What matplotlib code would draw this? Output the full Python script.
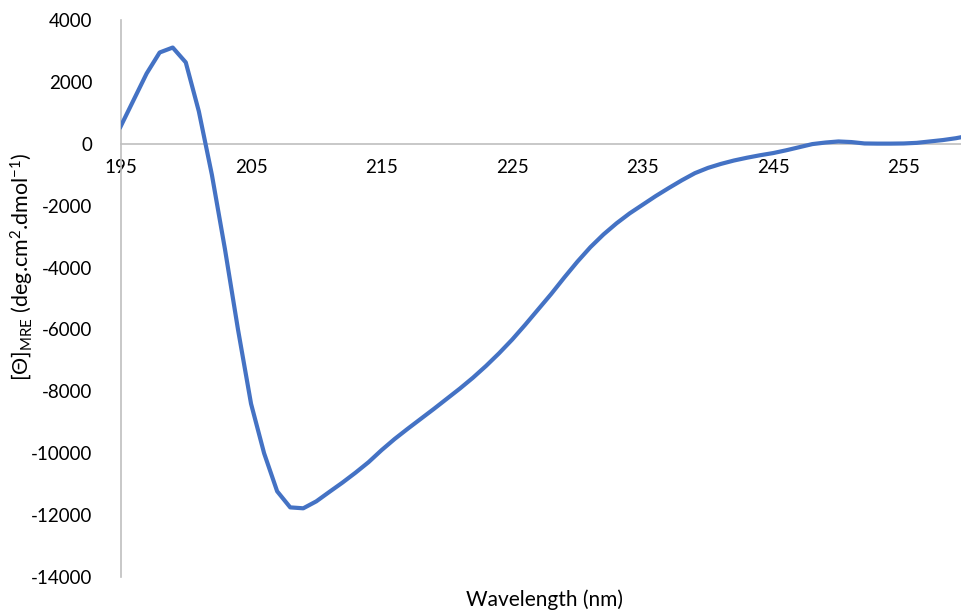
import matplotlib
matplotlib.use("Agg")
import matplotlib.pyplot as plt

# CD spectrum (1 nm steps)
wavelength = list(range(195, 261))
theta_mre = [
    550, 1410, 2270, 2950, 3110, 2630, 1050, -1000, -3400, -6000,      # 195-204
    -8400, -10000, -11230, -11750, -11780, -11555, -11250, -10950, -10630, -10290,  # 205-214
    -9900, -9540, -9210, -8890, -8570, -8240, -7910, -7560, -7180, -6770,  # 215-224
    -6330, -5850, -5350, -4850, -4320, -3810, -3340, -2930, -2570, -2250,  # 225-234
    -1970, -1690, -1430, -1180, -950, -780, -650, -540, -450, -370,       # 235-244
    -300, -210, -110, -10, 40, 75, 55, 10, 5, 5,                           # 245-254
    10, 30, 75, 120, 180, 260,                                             # 255-260
]

xticks = [195, 205, 215, 225, 235, 245, 255]
yticks = list(range(-14000, 4001, 2000))

plt.rcParams['font.family'] = ['Lato', 'DejaVu Sans']
plt.rcParams['axes.unicode_minus'] = False
plt.rcParams['mathtext.fontset'] = 'custom'
plt.rcParams['mathtext.rm'] = 'Lato'
plt.rcParams['mathtext.it'] = 'Lato:italic'

fig = plt.figure(figsize=(9.61, 6.11), dpi=100)
ax = fig.add_axes([120.5 / 961, 34 / 611, (969 - 120.5) / 961, 557 / 611])

ax.plot(wavelength, theta_mre, color='#4472C4', linewidth=3,
        solid_joinstyle='round', zorder=3)

ax.set_xlim(195, 260)
ax.set_ylim(-14000, 4000)
ax.set_xticks(xticks)
ax.set_yticks(yticks)

axis_grey = '#BFBFBF'
ax.spines['top'].set_visible(False)
ax.spines['right'].set_visible(False)
ax.spines['bottom'].set_position(('data', 0))
ax.spines['bottom'].set_color(axis_grey)
ax.spines['left'].set_color(axis_grey)
ax.spines['bottom'].set_linewidth(1.2)
ax.spines['left'].set_linewidth(1.2)

ax.tick_params(axis='x', length=0, pad=11, labelsize=13.5)
ax.tick_params(axis='y', length=0, pad=20, labelsize=13.5)

fig.text(545 / 961, 1 - 600 / 611, 'Wavelength (nm)', ha='center', va='center',
         fontsize=15)
fig.text(22 / 961, 1 - 267 / 611,
         r'[Θ]$_{\mathrm{MRE}}$ (deg.cm$^{2}$.dmol$^{\mathrm{-1}}$)',
         ha='center', va='center', rotation=90, fontsize=15.5)

fig.savefig('out.png', dpi=100)
